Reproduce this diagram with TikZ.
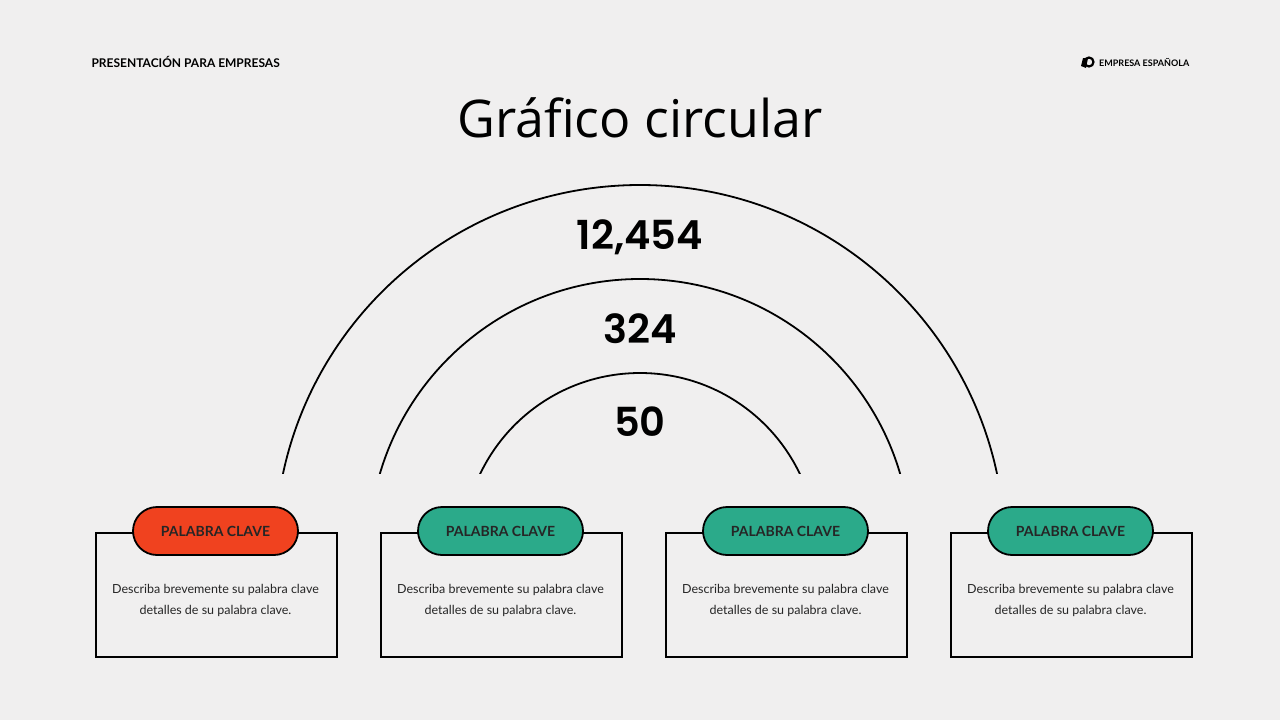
\documentclass[tikz,border=0pt]{standalone}
\usepackage{fontspec}
\setmainfont{Lato}
\newfontfamily\numfont{Poppins SemiBold}
\newfontfamily\titlefont{Open Sans}
\definecolor{bg}{HTML}{F0EFEF}
\definecolor{redk}{HTML}{F0421F}
\definecolor{teal}{HTML}{2BAA8A}
\begin{document}
\begin{tikzpicture}[x=1pt,y=-1pt,
  box/.style={draw=black,line width=1.8pt,fill=bg,minimum width=241pt,minimum height=124pt,anchor=north west},
  pill/.style={draw=black,line width=1.8pt,rounded corners=24pt,minimum width=165pt,minimum height=48pt,font=\fontsize{14}{16}\selectfont\bfseries\color{black!85}},
  desc/.style={align=center,font=\fontsize{12.5}{21}\selectfont\color{black!85}},
  num/.style={font=\numfont\fontsize{40}{44}\selectfont}]
\fill[bg] (0,0) rectangle (1280,720);
\useasboundingbox (0,0) rectangle (1280,720);
\node[anchor=west,font=\fontsize{12}{14}\selectfont\bfseries] (hdr) at (88,62) {PRESENTACIÓN PARA EMPRESAS};
\node[anchor=west,font=\fontsize{9}{11}\selectfont\bfseries,inner sep=0pt] (brand) at (1099,62) {EMPRESA ESPAÑOLA};
\node[draw=black,line width=2.2pt,circle,minimum size=9pt,inner sep=0pt] (logo) at (1089,62) {};
\fill[black] (1083,58) -- (1088,58) -- (1086,68) -- (1081,66) -- cycle;
\node[font=\titlefont\fontsize{52}{60}\selectfont,text=black] (title) at (640,118) {Gráfico circular};
\begin{scope}
\clip (0,0) rectangle (1280,473);
\draw[line width=1.8pt] (640,550) circle (365);
\draw[line width=1.8pt] (640,550) circle (271);
\draw[line width=1.8pt] (640,550) circle (177);
\end{scope}
\node[num] (n1) at (640,237) {12,454};
\node[num] (n2) at (640,329) {324};
\node[num] (n3) at (640,422) {50};
\foreach \x/\c/\i in {95/redk/1,380/teal/2,665/teal/3,950/teal/4}{
  \node[box] (b\i) at (\x,532) {};
  \node[pill,fill=\c] (p\i) at (\x+120.5,531) {PALABRA CLAVE};
  \node[desc] (d\i) at (\x+120.5,600) {Describa brevemente su palabra clave\\detalles de su palabra clave.};
}
\end{tikzpicture}
\end{document}
